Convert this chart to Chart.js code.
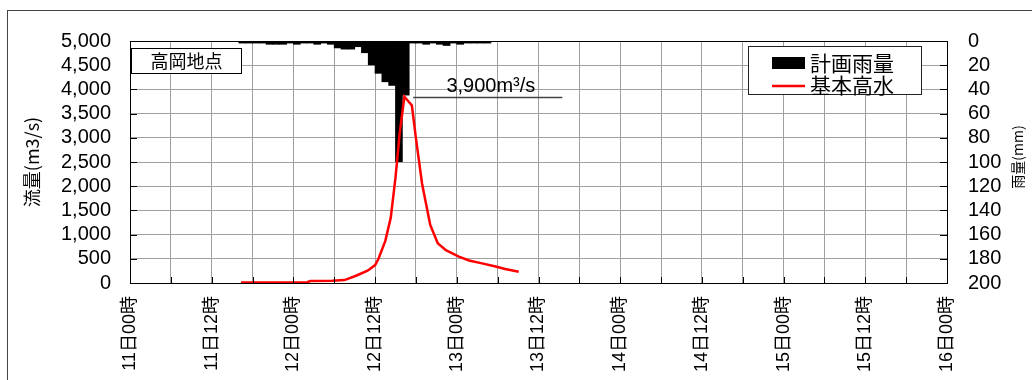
<!DOCTYPE html>
<html><head><meta charset="utf-8">
<script src="https://cdn.jsdelivr.net/npm/chart.js@4.4.0/dist/chart.umd.min.js"></script>
<style>
html,body{margin:0;padding:0;background:#fff;}
#wrap{position:relative;width:1032px;height:380px;overflow:hidden;background:#fff;}
#frame{position:absolute;left:7px;top:10px;width:1200px;height:600px;border-left:1px solid #444;border-top:1px solid #444;}
canvas{position:absolute;left:0;top:0;}
</style></head><body>
<div id="wrap"><div id="frame"></div><canvas id="c" width="1032" height="380"></canvas></div>
<script>
// ---- data ----
const xTickLabels = ['11日00時','11日12時','12日00時','12日12時','13日00時','13日12時','14日00時','14日12時','15日00時','15日12時','16日00時'];
const rainStartHour = 16; // first bar covers 11日16時-17時
const rainMm = [2,2,2,2,3,3,3,2,3,2,2,3,2,3,6,7,7,5,10,20,27,34,37,100,45,2,2,3,2,3,4,2,3,2,2,2,2];
const flowHours = [16.3,26,26.5,29.7,31.5,33.2,34.9,36.0,36.5,37.5,38.3,39.0,39.6,40.3,41.1,41.4,42.0,42.9,44.1,45.2,46.4,48.3,49.8,51.7,53.7,55.1,57.1];
const flowM3s  = [10,15,40,45,60,150,255,370,500,870,1350,2180,3080,3850,3720,3670,2990,2050,1200,820,680,545,465,405,340,288,233];
const leftTicks = {min:0, max:5000, step:500};
const rightTicks = {min:0, max:200, step:20};
const stationName = '高岡地点';
const rainName = '計画雨量';
const flowName = '基本高水';
const peakText = '3,900m³/s';
const leftTitle = '流量(m3/s)';
const rightTitle = '雨量(mm)';

const FONT = '"Liberation Sans", "Noto Sans CJK JP", sans-serif';
const CJK = '"Noto Sans CJK JP", "Liberation Sans", sans-serif';

const rainData = rainMm.map((v,i)=>({x: rainStartHour + i + 0.5, y: v}));
const flowData = flowHours.map((h,i)=>({x: h, y: flowM3s[i]}));

const decor = {
  id: 'decor',
  afterDraw(chart) {
    const {ctx, chartArea: ca, scales} = chart;
    const xs = scales.x, y = scales.y, y1 = scales.y1;
    ctx.save();
    // inner tick marks
    ctx.strokeStyle = '#000'; ctx.lineWidth = 1;
    ctx.beginPath();
    for (let v = 0; v <= 120; v += 6) { const px = Math.round(xs.getPixelForValue(v)) + 0.5; ctx.moveTo(px, ca.bottom); ctx.lineTo(px, ca.bottom - 6); }
    for (let v = leftTicks.min; v <= leftTicks.max; v += leftTicks.step) { const py = Math.round(y.getPixelForValue(v)) + 0.5; ctx.moveTo(ca.left, py); ctx.lineTo(ca.left + 7, py); }
    for (let v = rightTicks.min; v <= rightTicks.max; v += rightTicks.step) { const py = Math.round(y1.getPixelForValue(v)) + 0.5; ctx.moveTo(ca.right, py); ctx.lineTo(ca.right - 7, py); }
    ctx.stroke();
    // plot frame
    const L = Math.round(ca.left)+0.5, T = Math.round(ca.top)+0.5;
    ctx.strokeRect(L, T, Math.round(ca.right)-Math.round(ca.left), Math.round(ca.bottom)-Math.round(ca.top));

    // station box
    ctx.fillStyle = '#fff';
    ctx.fillRect(131.5, 48.5, 110, 25);
    ctx.strokeStyle = '#000';
    ctx.strokeRect(131.5, 48.5, 110, 25);
    ctx.fillStyle = '#000';
    ctx.font = '18px ' + CJK;
    ctx.textAlign = 'center'; ctx.textBaseline = 'middle';
    ctx.fillText(stationName, 186.5, 61.5);

    // legend
    ctx.fillStyle = '#fff';
    ctx.fillRect(748.5, 46.5, 173, 48);
    ctx.strokeStyle = '#222';
    ctx.strokeRect(748.5, 46.5, 173, 48);
    ctx.fillStyle = '#000';
    ctx.fillRect(772, 57, 33, 12);
    ctx.strokeStyle = '#ff0000'; ctx.lineWidth = 2.5;
    ctx.beginPath(); ctx.moveTo(772, 86); ctx.lineTo(805, 86); ctx.stroke();
    ctx.fillStyle = '#000';
    ctx.font = '21px ' + CJK;
    ctx.textAlign = 'left'; ctx.textBaseline = 'middle';
    ctx.fillText(rainName, 810, 63);
    ctx.fillText(flowName, 810, 85);

    // peak annotation
    const py = Math.round(y.getPixelForValue(Math.max(...flowM3s))) + 0.5;
    ctx.strokeStyle = '#444'; ctx.lineWidth = 1.5;
    ctx.beginPath(); ctx.moveTo(xs.getPixelForValue(41.6), py); ctx.lineTo(xs.getPixelForValue(63.5), py); ctx.stroke();
    ctx.fillStyle = '#000';
    ctx.font = '20px ' + FONT;
    ctx.textAlign = 'center'; ctx.textBaseline = 'alphabetic';
    ctx.fillText(peakText, xs.getPixelForValue(53), py - 6);

    // right axis title (reads bottom to top)
    ctx.save();
    ctx.translate(1018, (ca.top + ca.bottom)/2 - 5);
    ctx.rotate(-Math.PI/2);
    ctx.font = '14px ' + CJK;
    ctx.textAlign = 'center'; ctx.textBaseline = 'middle';
    ctx.fillText(rightTitle, 0, 0);
    ctx.restore();
    ctx.restore();
  }
};

new Chart(document.getElementById('c'), {
  type: 'bar',
  data: {
    datasets: [
      { type: 'line', label: flowName, data: flowData, xAxisID: 'x', yAxisID: 'y',
        borderColor: '#ff0000', borderWidth: 2.5, pointRadius: 0, tension: 0, fill: false, order: 0 },
      { type: 'bar', label: rainName, data: rainData, xAxisID: 'x', yAxisID: 'y1',
        backgroundColor: '#000', borderWidth: 0, barPercentage: 1.12, categoryPercentage: 1, order: 1 }
    ]
  },
  options: {
    responsive: false, animation: false,
    layout: { padding: { top: 41, left: 0, right: 0, bottom: 0 } },
    plugins: { legend: { display: false }, tooltip: { enabled: false } },
    scales: {
      x: {
        type: 'linear', min: 0, max: 120, offset: false,
        grid: { color: '#a0a0a0', offset: false, drawTicks: false },
        border: { color: '#000' },
        ticks: { stepSize: 6, autoSkip: false, minRotation: 90, maxRotation: 90, padding: 13, color: '#000',
          font: { family: FONT, size: 18 },
          callback: (v) => (v % 12 === 0 ? xTickLabels[v / 12] : '') },
        afterFit: (s) => { s.height = 97; }
      },
      y: {
        position: 'left', min: leftTicks.min, max: leftTicks.max,
        grid: { color: '#a0a0a0', drawTicks: false },
        border: { color: '#000' },
        ticks: { stepSize: leftTicks.step, autoSkip: false, padding: 19, color: '#000', font: { family: FONT, size: 20 },
          callback: (v) => v.toLocaleString('en-US') },
        title: { display: true, text: leftTitle, color: '#000', font: { family: CJK, size: 18 }, padding: { top: 21, bottom: 0 } },
        afterFit: (s) => { s.width = 130; }
      },
      y1: {
        position: 'right', min: rightTicks.min, max: rightTicks.max, reverse: true,
        grid: { drawOnChartArea: false, drawTicks: false },
        border: { color: '#000' },
        ticks: { stepSize: rightTicks.step, autoSkip: false, padding: 21, color: '#000', font: { family: FONT, size: 20 } },
        afterFit: (s) => { s.width = 85; }
      }
    }
  },
  plugins: [decor]
});
</script>
</body></html>
